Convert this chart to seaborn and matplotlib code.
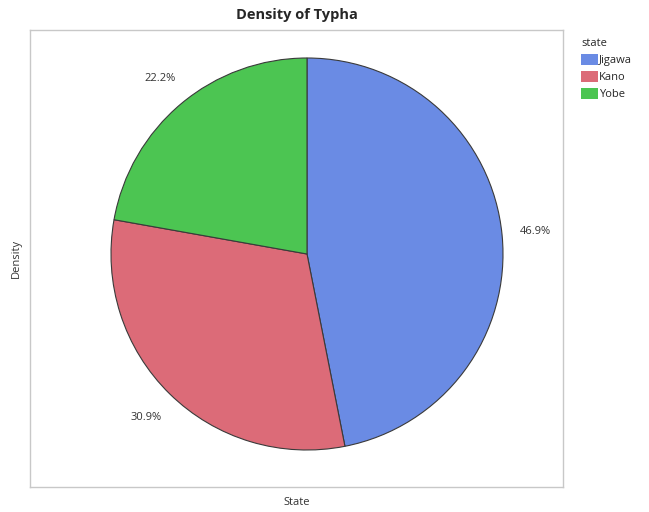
import matplotlib
matplotlib.use("Agg")
import matplotlib.pyplot as plt
import seaborn as sns
from matplotlib.patches import Patch

states = ["Jigawa", "Kano", "Yobe"]
shares = [46.9, 30.9, 22.2]
colors = ["#6a8be4", "#dc6b78", "#4cc552"]

sns.set_theme(style="white")
plt.rcParams['font.family'] = ['Open Sans', 'DejaVu Sans']
palette = sns.color_palette(colors)

W, H = 649, 512
fig = plt.figure(figsize=(W / 100, H / 100), dpi=100)
L, R, T, B = 30, 563, 30, 487
ax = fig.add_axes([L / W, 1 - B / H, (R - L) / W, (B - T) / H])

cx, cy, r = 307, 254, 196
wedges, texts, autotexts = ax.pie(
    shares, colors=palette, startangle=90, counterclock=False,
    radius=1, autopct='%1.1f%%', pctdistance=1.17, frame=True,
    wedgeprops=dict(edgecolor="#3a3a3a", linewidth=0.8),
    textprops=dict(fontsize=8, color="#333333"))

ax.set_aspect('auto')
ax.set_xlim(-(cx - L) / r, (R - cx) / r)
ax.set_ylim(-(B - cy) / r, (cy - T) / r)
ax.set_xticks([])
ax.set_yticks([])
for s in ax.spines.values():
    s.set_visible(True)
    s.set_color("#c8c8c8")
    s.set_linewidth(1)

ax.set_title("Density of Typha", fontsize=10.5, fontweight="bold", pad=8)
ax.set_xlabel("State", fontsize=8, labelpad=7, color="#333333")
ax.set_ylabel("Density", fontsize=8, labelpad=6, color="#333333")

handles = [Patch(facecolor=c, edgecolor="none") for c in palette]
leg = fig.legend(handles, states, title="state", loc="upper left",
                 bbox_to_anchor=(581 / W, 1 - 38 / H), frameon=False,
                 fontsize=8, title_fontsize=8, handlelength=1.5,
                 handleheight=1.15, handletextpad=0.1, labelspacing=0.42,
                 borderpad=0, borderaxespad=0)
leg._legend_box.align = "left"

fig.savefig("out.png", dpi=100)
